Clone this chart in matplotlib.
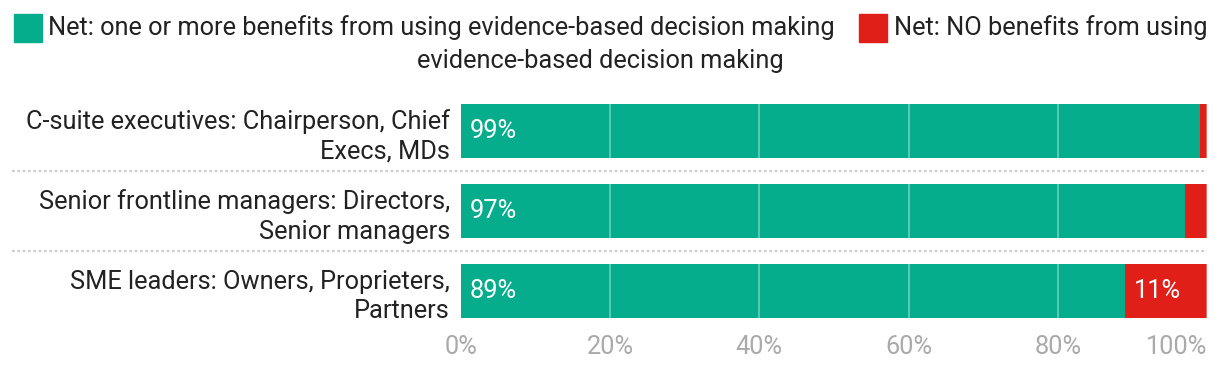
import matplotlib.pyplot as plt
import matplotlib.transforms as mtransforms
from matplotlib.patches import Rectangle
from matplotlib.lines import Line2D

# --- data ---
categories = [
    "C-suite executives: Chairperson, Chief\nExecs, MDs",
    "Senior frontline managers: Directors,\nSenior managers",
    "SME leaders: Owners, Proprieters,\nPartners",
]
benefits = [99, 97, 89]
no_benefits = [1, 3, 11]
series_names = [
    "Net: one or more benefits from using evidence-based decision making",
    "Net: NO benefits from using evidence-based decision making",
]
tick_values = [0, 20, 40, 60, 80, 100]

GREEN = "#06ad8d"
RED = "#e01f19"
TEXT = "#222222"
FONT = "Roboto"
FS = 18.3

plt.rcParams['font.family'] = [FONT, 'DejaVu Sans']

W, H = 1220, 366
fig = plt.figure(figsize=(W / 100, H / 100), dpi=100)
ax = fig.add_axes([461 / W, 1 - 331 / H, (1207 - 461) / W, (331 - 91) / H])

ypos = list(range(len(categories)))
ax.barh(ypos, benefits, height=0.675, color=GREEN, zorder=1)
ax.barh(ypos, no_benefits, left=benefits, height=0.675, color=RED, zorder=1)

# gridlines drawn on top of the bars
for t in tick_values[1:]:
    ax.axvline(t, color="white", alpha=0.4, lw=1.2, zorder=2)

# value labels
for i, (b, n) in enumerate(zip(benefits, no_benefits)):
    ax.text(1.2, i, f"{b}%", color="white", fontsize=FS, va="center", ha="left", zorder=3)
    if n >= 5:
        ax.text(b + 1.2, i, f"{n}%", color="white", fontsize=FS, va="center", ha="left", zorder=3)

ax.set_xlim(0, 100)
ax.set_ylim(len(categories) - 0.5, -0.5)
ax.set_yticks(ypos)
ax.set_yticklabels(categories, fontsize=FS, color=TEXT, linespacing=1.3)
ax.set_xticks(tick_values)
ax.set_xticklabels([f"{t}%" for t in tick_values], fontsize=FS, color="#aaaaaa")
ax.get_xticklabels()[-1].set_ha("right")
ax.tick_params(axis="both", length=0)
ax.tick_params(axis="y", pad=8)
ax.tick_params(axis="x", pad=3)
for s in ax.spines.values():
    s.set_visible(False)

# dotted separators across the full width
trans = mtransforms.blended_transform_factory(fig.transFigure, ax.transData)
for i in range(len(categories) - 1):
    fig.add_artist(Line2D([12 / W, 1207 / W], [i + 0.5, i + 0.5], transform=trans,
                          color="#cccccc", lw=1.6, ls=(0, (1.2, 1.2))))

# legend, laid out in a centred flow like the original
colors = [GREEN, RED]
fig.patches.append(Rectangle((14 / W, 1 - 42 / H), 28 / W, 28 / H, transform=fig.transFigure,
                             color=colors[0]))
fig.text(48 / W, 1 - 28 / H, series_names[0], fontsize=FS, color=TEXT, va="center", ha="left")
fig.patches.append(Rectangle((859 / W, 1 - 42 / H), 28 / W, 28 / H, transform=fig.transFigure,
                             color=colors[1]))
first, second = series_names[1].split(" evidence", 1)
fig.text(894 / W, 1 - 28 / H, first, fontsize=FS, color=TEXT, va="center", ha="left")
fig.text(600 / W, 1 - 61 / H, "evidence" + second, fontsize=FS, color=TEXT, va="center", ha="center")

fig.savefig("out.png", dpi=100)
